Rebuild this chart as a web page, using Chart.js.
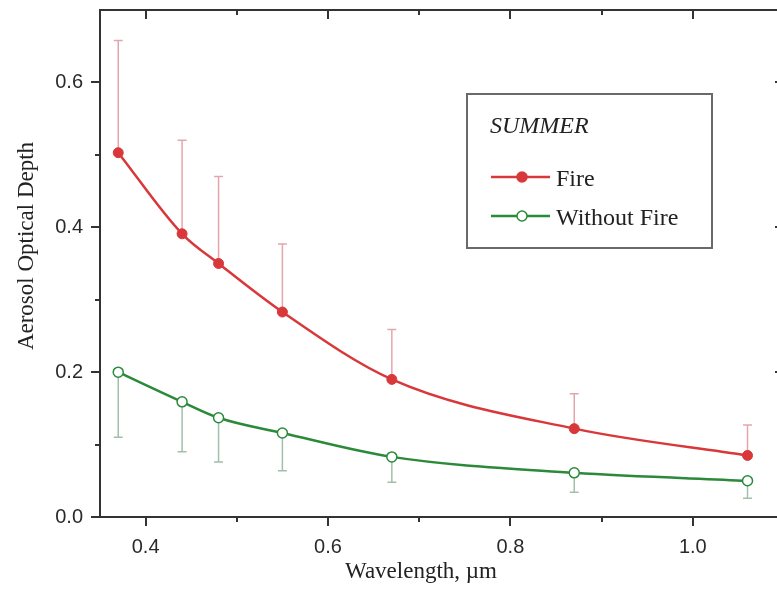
<!DOCTYPE html>
<html>
<head>
<meta charset="utf-8">
<script src="https://cdn.jsdelivr.net/npm/chart.js@4"></script>
<style>
html, body { margin: 0; padding: 0; background: #fff; overflow: hidden; }
#wrap { width: 777px; height: 591px; overflow: hidden; }
</style>
</head>
<body>
<div id="wrap"><canvas id="aod" width="800" height="591"></canvas></div>
<script>
// data
var wavelength = [0.37, 0.44, 0.48, 0.55, 0.67, 0.87, 1.06];
var fireAod = [0.503, 0.391, 0.350, 0.283, 0.190, 0.122, 0.085];
var fireErrTop = [0.658, 0.520, 0.470, 0.377, 0.259, 0.170, 0.127];
var noFireAod = [0.200, 0.159, 0.137, 0.116, 0.083, 0.061, 0.050];
var noFireErrBottom = [0.110, 0.090, 0.076, 0.064, 0.048, 0.034, 0.026];

var xTicks = [0.4, 0.6, 0.8, 1.0];
var xMinorTicks = [0.5, 0.7, 0.9];
var yTicks = [0.0, 0.2, 0.4, 0.6];
var yMinorTicks = [0.1, 0.3, 0.5];

var axisColor = "#333";
var fireColor = "#d8383a";
var noFireColor = "#2b8a3a";

function points(ys) {
    return wavelength.map(function (x, i) { return { x: x, y: ys[i] }; });
}

// error bars, drawn under the lines
var errorBars = {
    id: "errorBars",
    beforeDatasetsDraw: function (chart) {
        var ctx = chart.ctx, xs = chart.scales.x, ys = chart.scales.y;
        function bar(vals, ends, color) {
            ctx.save();
            ctx.strokeStyle = color;
            ctx.lineWidth = 1.5;
            for (var i = 0; i < wavelength.length; i++) {
                var px = xs.getPixelForValue(wavelength[i]);
                var y0 = ys.getPixelForValue(vals[i]);
                var y1 = ys.getPixelForValue(ends[i]);
                ctx.beginPath();
                ctx.moveTo(px, y0); ctx.lineTo(px, y1);
                ctx.moveTo(px - 4.5, y1); ctx.lineTo(px + 4.5, y1);
                ctx.stroke();
            }
            ctx.restore();
        }
        bar(fireAod, fireErrTop, "#e4a6ae");
        bar(noFireAod, noFireErrBottom, "#a3bfac");
    }
};

// frame, ticks on all sides, axis titles and the boxed legend
var decorations = {
    id: "decorations",
    afterDraw: function (chart) {
        var ctx = chart.ctx, a = chart.chartArea;
        var xs = chart.scales.x, ys = chart.scales.y;
        ctx.save();
        ctx.strokeStyle = axisColor;
        ctx.lineWidth = 2;
        ctx.beginPath();
        ctx.moveTo(a.left, a.top); ctx.lineTo(a.right, a.top);
        ctx.moveTo(a.right, a.top); ctx.lineTo(a.right, a.bottom);
        ctx.stroke();

        function xTick(v, len) {
            var px = Math.round(xs.getPixelForValue(v));
            ctx.beginPath();
            ctx.moveTo(px, a.bottom); ctx.lineTo(px, a.bottom + len);
            ctx.moveTo(px, a.top); ctx.lineTo(px, a.top + len);
            ctx.stroke();
        }
        function yTick(v, len) {
            var py = Math.round(ys.getPixelForValue(v));
            ctx.beginPath();
            ctx.moveTo(a.left, py); ctx.lineTo(a.left - len, py);
            ctx.moveTo(a.right, py); ctx.lineTo(a.right - len, py);
            ctx.stroke();
        }
        xTicks.forEach(function (v) { xTick(v, 9); });
        xMinorTicks.forEach(function (v) { xTick(v, 5); });
        yTicks.forEach(function (v) { yTick(v, 9); });
        yMinorTicks.forEach(function (v) { yTick(v, 5); });

        // axis titles
        ctx.fillStyle = "#222";
        ctx.font = '23px "Liberation Serif"';
        ctx.textAlign = "center";
        ctx.textBaseline = "alphabetic";
        ctx.fillText("Wavelength, \u00b5m", 421, 578);
        ctx.save();
        ctx.translate(33, 246);
        ctx.rotate(-Math.PI / 2);
        ctx.fillText("Aerosol Optical Depth", 0, 0);
        ctx.restore();

        // legend box
        ctx.fillStyle = "#fff";
        ctx.fillRect(467, 94, 245, 154);
        ctx.strokeStyle = "#6a6a6a";
        ctx.lineWidth = 2;
        ctx.strokeRect(467, 94, 245, 154);

        ctx.fillStyle = "#222";
        ctx.textAlign = "left";
        ctx.font = 'italic 24px "Liberation Serif"';
        ctx.fillText("SUMMER", 490, 133);

        function legendRow(y, color, fill, label) {
            ctx.strokeStyle = color;
            ctx.lineWidth = 2.5;
            ctx.beginPath();
            ctx.moveTo(491, y); ctx.lineTo(550, y);
            ctx.stroke();
            ctx.beginPath();
            ctx.arc(522, y, 5, 0, Math.PI * 2);
            ctx.fillStyle = fill;
            ctx.fill();
            ctx.lineWidth = 1.5;
            ctx.stroke();
            ctx.fillStyle = "#222";
            ctx.font = '24px "Liberation Serif"';
            ctx.fillText(label, 556, y + 9);
        }
        legendRow(177, fireColor, fireColor, "Fire");
        legendRow(216, noFireColor, "#fff", "Without Fire");
        ctx.restore();
    }
};

var ctx = document.getElementById("aod").getContext("2d");

var chart = new Chart(ctx, {
    type: "scatter",
    data: {
        datasets: [{
            label: "Fire",
            data: points(fireAod),
            showLine: true,
            borderColor: fireColor,
            backgroundColor: fireColor,
            pointBackgroundColor: fireColor,
            pointBorderColor: fireColor,
            pointRadius: 5,
            pointBorderWidth: 1,
            borderWidth: 2.5,
            cubicInterpolationMode: "monotone"
        }, {
            label: "Without Fire",
            data: points(noFireAod),
            showLine: true,
            borderColor: noFireColor,
            backgroundColor: "#fff",
            pointBackgroundColor: "#fff",
            pointBorderColor: noFireColor,
            pointRadius: 5,
            pointBorderWidth: 1.5,
            borderWidth: 2.5,
            cubicInterpolationMode: "monotone"
        }]
    },
    options: {
        responsive: false,
        animation: false,
        layout: { padding: { top: 10, right: 16, left: 0, bottom: 0 } },
        plugins: {
            legend: { display: false },
            tooltip: { enabled: false }
        },
        scales: {
            x: {
                type: "linear",
                min: 0.35,
                max: 1.1,
                afterBuildTicks: function (s) { s.ticks = xTicks.map(function (v) { return { value: v }; }); },
                afterFit: function (s) { s.height = 74; s.paddingLeft = 0; s.paddingRight = 0; },
                grid: { display: false },
                border: { display: true, color: axisColor, width: 2 },
                ticks: {
                    color: "#2a2a2a",
                    padding: 10,
                    maxRotation: 0,
                    font: { family: "Liberation Sans", size: 20 },
                    callback: function (v) { return v.toFixed(1); }
                }
            },
            y: {
                min: 0,
                max: 0.7,
                afterBuildTicks: function (s) { s.ticks = yTicks.map(function (v) { return { value: v }; }); },
                afterFit: function (s) { s.width = 100; s.paddingTop = 0; s.paddingBottom = 0; },
                grid: { display: false },
                border: { display: true, color: axisColor, width: 2 },
                ticks: {
                    color: "#2a2a2a",
                    padding: 9,
                    font: { family: "Liberation Sans", size: 20 },
                    callback: function (v) { return v.toFixed(1); }
                }
            }
        }
    },
    plugins: [errorBars, decorations]
});
</script>
</body>
</html>
